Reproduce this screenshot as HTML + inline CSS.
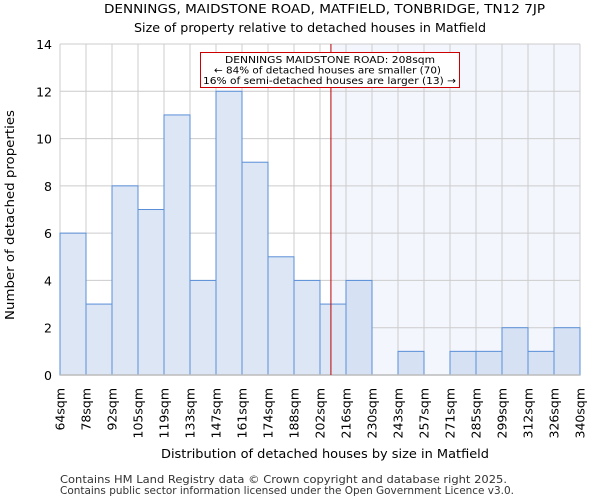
<!DOCTYPE html>
<html><head><meta charset="utf-8"><style>
body{margin:0;background:#fff;font-family:"DejaVu Sans","Liberation Sans",sans-serif}
</style></head><body>
<svg id="chart" width="600" height="500" xmlns="http://www.w3.org/2000/svg" font-family="DejaVu Sans, Liberation Sans, sans-serif">
<text x="104" y="13" font-size="12.5" textLength="441" lengthAdjust="spacingAndGlyphs">DENNINGS, MAIDSTONE ROAD, MATFIELD, TONBRIDGE, TN12 7JP</text>
<text x="134" y="32" font-size="12.5" textLength="352" lengthAdjust="spacingAndGlyphs">Size of property relative to detached houses in Matfield</text>
<g id="plot"></g>
<text x="161" y="458" font-size="12.5" textLength="328" lengthAdjust="spacingAndGlyphs">Distribution of detached houses by size in Matfield</text>
<text transform="translate(14,320) rotate(-90)" font-size="12.5" textLength="210" lengthAdjust="spacingAndGlyphs">Number of detached properties</text>
<text x="60" y="483" font-size="10.5" fill="#333" textLength="447" lengthAdjust="spacingAndGlyphs">Contains HM Land Registry data © Crown copyright and database right 2025.</text>
<text x="60" y="494" font-size="10.5" fill="#333" textLength="454" lengthAdjust="spacingAndGlyphs">Contains public sector information licensed under the Open Government Licence v3.0.</text>
</svg>
<script>
const categories=["64sqm","78sqm","92sqm","105sqm","119sqm","133sqm","147sqm","161sqm","174sqm","188sqm","202sqm","216sqm","230sqm","243sqm","257sqm","271sqm","285sqm","299sqm","312sqm","326sqm","340sqm"];
const counts=[6,3,8,7,11,4,12,9,5,4,3,4,0,1,0,1,1,2,1,2];
const yTicks=[0,2,4,6,8,10,12,14];
const markerBin=10.42;
const NS="http://www.w3.org/2000/svg";
const g=document.getElementById('plot');
const L=60,R=580,T=44,B=375,yMax=14;
const bw=(R-L)/counts.length;
const x=i=>L+i*bw;
const y=v=>B-(v/yMax)*(B-T);
function mk(t,a){const e=document.createElementNS(NS,t);for(const k in a)e.setAttribute(k,a[k]);g.appendChild(e);return e;}
const mx=x(markerBin);
let e=mk('rect',{x:mx,y:T,width:R-mx,height:B-T,fill:'#f3f6fd'});


yTicks.forEach(v=>{const l=mk('line',{x1:L,x2:R,y1:y(v),y2:y(v),stroke:'#cccccc','stroke-width':1});


const t=mk('text',{x:L-8,y:y(v)+5,'text-anchor':'end','font-size':12.5});t.textContent=v;

});
categories.forEach((c,i)=>{const l=mk('line',{x1:x(i),x2:x(i),y1:T,y2:B,stroke:'#cccccc','stroke-width':1});


const t=mk('text',{transform:`translate(${x(i)+4.5},388) rotate(-90)`,'text-anchor':'end','font-size':12.5});t.textContent=c;

});
counts.forEach((v,i)=>{if(v<=0)return;const r=mk('rect',{x:x(i),y:y(v),width:bw,height:B-y(v),fill:i>=11?'#d6e2f4':'#dce6f4',stroke:'#5a8fd8','stroke-width':1});

});
e=mk('line',{x1:L,x2:R,y1:B,y2:B,stroke:'#bbbbbb','stroke-width':1.5});


e=mk('line',{x1:mx,x2:mx,y1:T,y2:B,stroke:'#bb0000','stroke-width':1});


e=mk('rect',{x:200.5,y:52.5,width:259,height:35,fill:'#fff',stroke:'#cc0000','stroke-width':1});


const ann=[["DENNINGS MAIDSTONE ROAD: 208sqm",225,210],["← 84% of detached houses are smaller (70)",214,227],["16% of semi-detached houses are larger (13) →",203,253]];
ann.forEach((s,k)=>{const t=mk('text',{x:s[1],y:63+k*10.5,'font-size':10,textLength:s[2],lengthAdjust:'spacingAndGlyphs'});t.textContent=s[0];

});
</script>
</body></html>
